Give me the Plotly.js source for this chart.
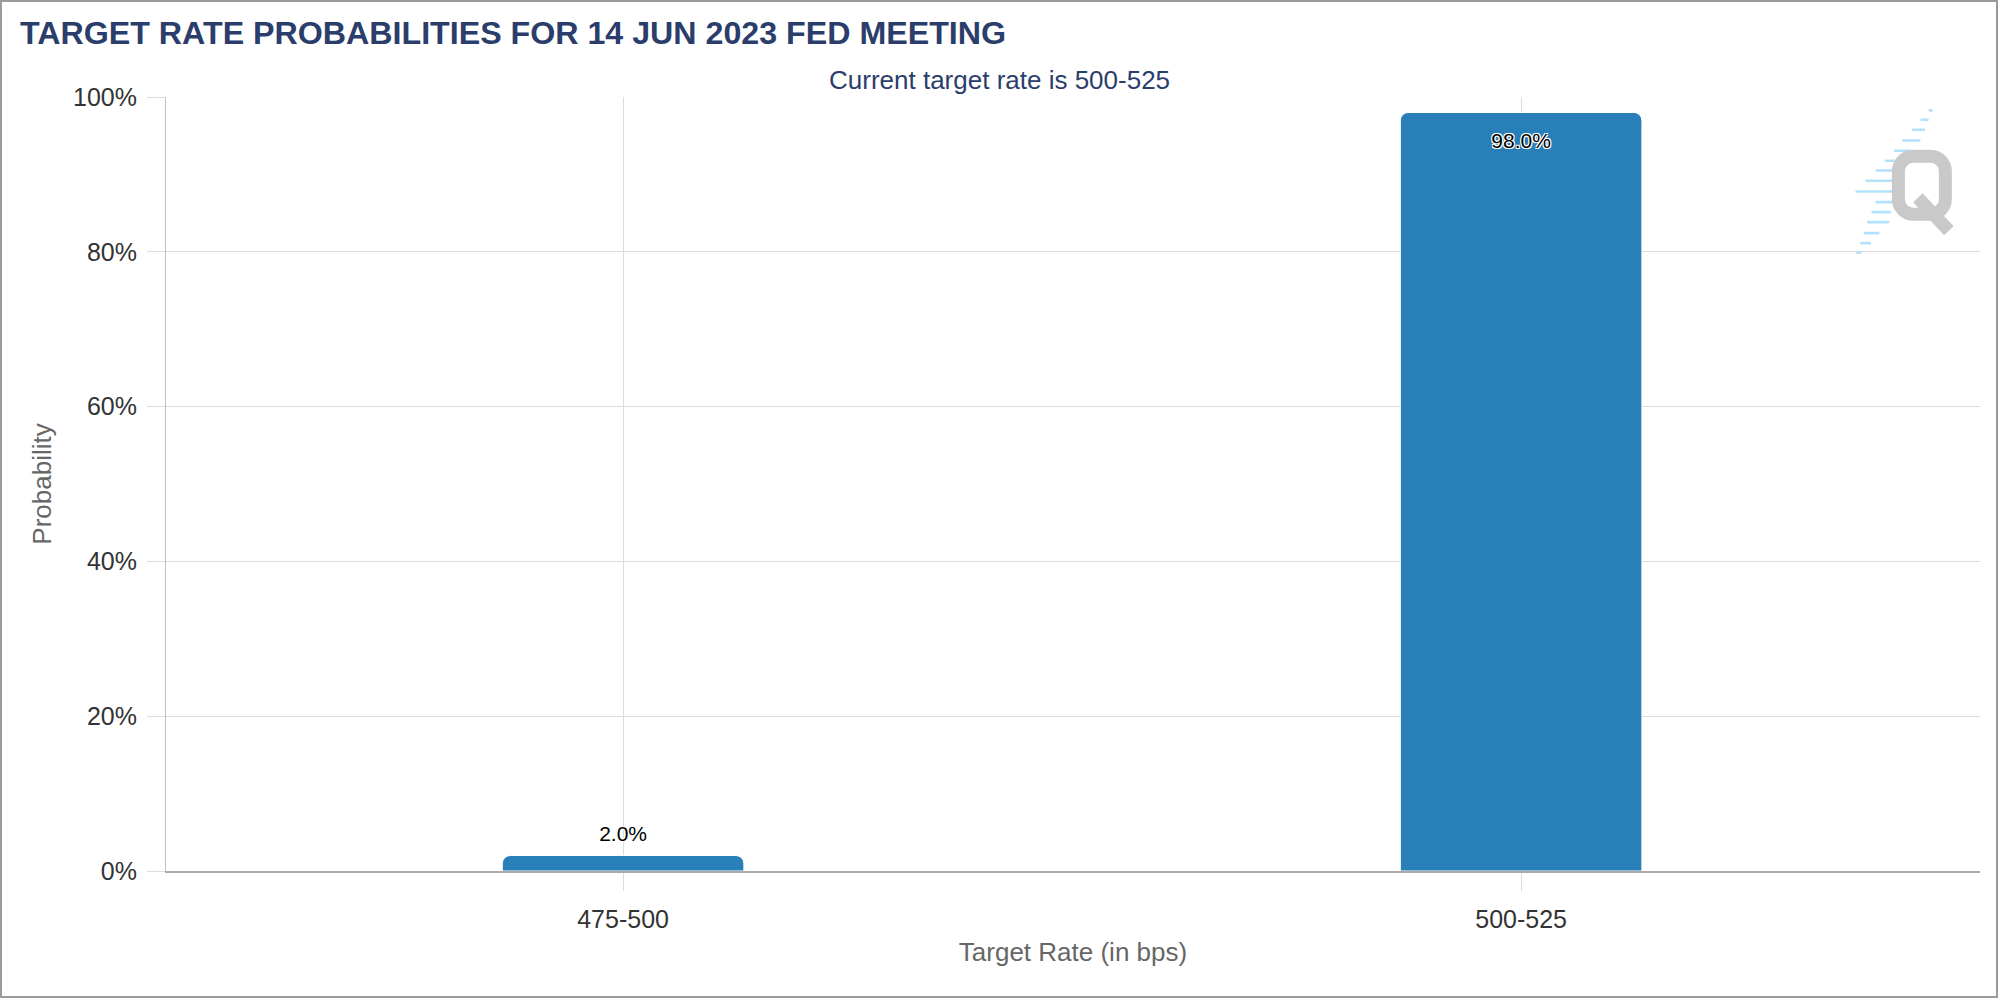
<!DOCTYPE html>
<html><head><meta charset="utf-8">
<script src="https://cdn.plot.ly/plotly-3.0.1.min.js"></script>
<style>
html,body{margin:0;padding:0;background:#fff;}
#frame{position:absolute;left:0;top:0;width:1998px;height:998px;box-sizing:border-box;border:2px solid #9b9b9b;background:#fff;}
#chart{width:1994px;height:994px;}
</style></head><body>
<div id="frame"><div id="chart"></div></div>
<script>
const chartTitle = 'TARGET RATE PROBABILITIES FOR 14 JUN 2023 FED MEETING';
const subtitle = 'Current target rate is 500-525';
const categories = ['475-500', '500-525'];
const probabilities = [2.0, 98.0];
const valueLabels = ['2.0%', '98.0%'];
const yTickValues = [0, 20, 40, 60, 80, 100];
const yTickLabels = ['0%', '20%', '40%', '60%', '80%', '100%'];
const xTitle = 'Target Rate (in bps)';
const yTitle = 'Probability';

const logoSvg = "<svg xmlns='http://www.w3.org/2000/svg' viewBox='0 0 110 160' width='110' height='160'>" +
  "<g stroke='#b3e1fb' stroke-width='2.6' stroke-linecap='round'>" +
  "<line x1='80' y1='10.7' x2='81.7' y2='10.7'/>" +
  "<line x1='71.7' y1='20' x2='77.7' y2='20'/>" +
  "<line x1='63.3' y1='30' x2='74' y2='30'/>" +
  "<line x1='53.3' y1='40.7' x2='69.3' y2='40.7'/>" +
  "<line x1='45' y1='51' x2='60' y2='51'/>" +
  "<line x1='36' y1='61' x2='50' y2='61'/>" +
  "<line x1='26.7' y1='70.7' x2='46.7' y2='70.7'/>" +
  "<line x1='16.7' y1='81' x2='43.3' y2='81'/>" +
  "<line x1='6.7' y1='91.7' x2='41.7' y2='91.7'/>" +
  "<line x1='26.7' y1='102.3' x2='43.3' y2='102.3'/>" +
  "<line x1='22.7' y1='112.3' x2='40' y2='112.3'/>" +
  "<line x1='18.3' y1='122.3' x2='38.3' y2='122.3'/>" +
  "<line x1='15' y1='133.3' x2='28.3' y2='133.3'/>" +
  "<line x1='11.7' y1='143.3' x2='20' y2='143.3'/>" +
  "<line x1='7.3' y1='152.7' x2='10.7' y2='152.7'/>" +
  "</g>" +
  "<rect x='48.5' y='56.5' width='47' height='58' rx='15' fill='none' stroke='#c9c9c9' stroke-width='13'/>" +
  "<line x1='68' y1='98' x2='99' y2='131' stroke='#c9c9c9' stroke-width='13'/>" +
  "</svg>";
const logoUri = 'data:image/svg+xml;charset=utf-8,' + encodeURIComponent(logoSvg);

const barTrace = {
  type: 'bar',
  x: categories,
  y: probabilities,
  marker: {color: '#2980b9', line: {width: 1, color: '#ffffff'}},
  hoverinfo: 'x+y'
};

const labelTrace = {
  type: 'scatter',
  mode: 'markers+text',
  x: categories,
  y: probabilities,
  text: valueLabels,
  textposition: probabilities.map(p => p > 50 ? 'bottom center' : 'top center'),
  marker: {size: probabilities.map(p => p > 50 ? 30.4 : 13.5), opacity: 0, color: 'rgba(0,0,0,0)'},
  textfont: {size: 21, color: '#000000', family: 'Liberation Sans, Arial, sans-serif',
    shadow: '1px 1px 0 #fff, -1px -1px 0 #fff, 1px -1px 0 #fff, -1px 1px 0 #fff'},
  hoverinfo: 'skip',
  cliponaxis: false
};

const layout = {
  width: 1994, height: 994,
  margin: {l: 164, r: 16, t: 95, b: 125, pad: 0},
  paper_bgcolor: '#ffffff', plot_bgcolor: '#ffffff',
  font: {family: 'Liberation Sans, Arial, sans-serif', color: '#333333'},
  title: {
    text: chartTitle,
    font: {size: 32.2, color: '#2b3d6b', weight: 'bold', family: 'Liberation Sans, Arial, sans-serif'},
    xref: 'container', yref: 'container',
    x: 18 / 1994, xanchor: 'left',
    y: 1 - 30.5 / 994, yanchor: 'middle'
  },
  showlegend: false,
  bargap: 0.731,
  barcornerradius: 8,
  xaxis: {
    type: 'category',
    range: [-0.509, 1.511],
    showgrid: true, gridcolor: '#dcdcdc', gridwidth: 1,
    showline: true, linecolor: '#ababab', linewidth: 2,
    ticks: 'outside', ticklen: 18, tickcolor: '#dcdcdc', tickwidth: 1,
    tickfont: {size: 25, color: '#333333'},
    ticklabelstandoff: 7,
    zeroline: false,
    title: {text: xTitle, font: {size: 26, color: '#666666'}, standoff: 11}
  },
  yaxis: {
    range: [0, 100],
    tickvals: yTickValues, ticktext: yTickLabels,
    showgrid: true, gridcolor: '#dcdcdc', gridwidth: 1,
    showline: true, linecolor: '#c0c0c0', linewidth: 1,
    ticks: 'outside', ticklen: 18, tickcolor: '#dcdcdc', tickwidth: 1,
    tickfont: {size: 25, color: '#333333'},
    ticklabelstandoff: 5,
    zeroline: false,
    title: {text: yTitle, font: {size: 26, color: '#666666'}, standoff: 13}
  },
  annotations: [{
    text: subtitle, xref: 'paper', yref: 'paper',
    x: 0.4595, y: 1.0224, xanchor: 'center', yanchor: 'middle',
    showarrow: false, font: {size: 26, color: '#2b3d6b'}
  }],
  images: [{
    source: logoUri, xref: 'paper', yref: 'paper',
    x: 0.9283, y: 0.9965, sizex: 0.0606, sizey: 0.2069,
    xanchor: 'left', yanchor: 'top', sizing: 'stretch', layer: 'above'
  }]
};

Plotly.newPlot('chart', [barTrace, labelTrace], layout, {displayModeBar: false, responsive: false});
</script>
</body></html>
